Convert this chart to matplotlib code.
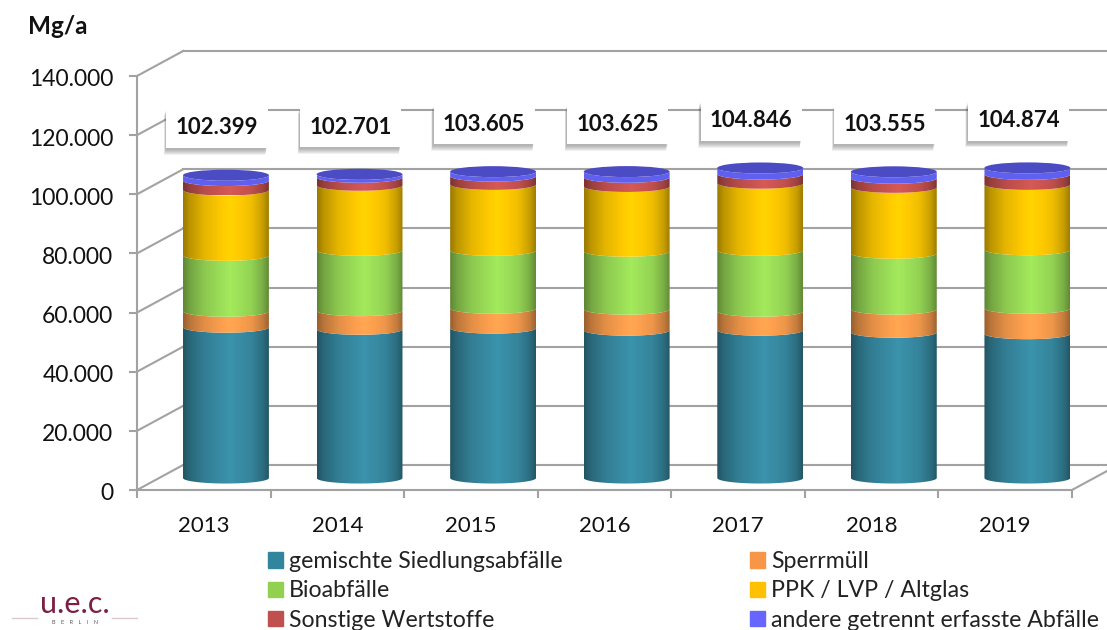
import numpy as np
import matplotlib
matplotlib.use('Agg')
import matplotlib.pyplot as plt
from matplotlib.patches import Patch, PathPatch, Ellipse
from matplotlib.path import Path
from matplotlib.transforms import ScaledTranslation
import matplotlib.patheffects as pe

plt.rcParams['font.family'] = ['Lato', 'DejaVu Sans']

years = ['2013', '2014', '2015', '2016', '2017', '2018', '2019']
totals = [102399, 102701, 103605, 103625, 104846, 103555, 104874]
gemischt = [51000, 50300, 50700, 50000, 50000, 49300, 48800]
sperrmuell = [5400, 6300, 6700, 7100, 6400, 7800, 8600]
bio = [18900, 20400, 19600, 19600, 20600, 18900, 19800]
ppk = [22100, 22000, 22300, 21900, 22700, 22300, 22100]
sonstige = [3200, 2700, 2800, 3100, 3100, 3100, 3400]
andere = [1799, 1001, 1505, 1925, 2046, 2155, 2174]
y_ticks = [0, 20000, 40000, 60000, 80000, 100000, 120000, 140000]
y_labels = ['0', '20.000', '40.000', '60.000', '80.000', '100.000', '120.000', '140.000']

series = [gemischt, sperrmuell, bio, ppk, sonstige, andere]
names = ['gemischte Siedlungsabfälle', 'Sperrmüll', 'Bioabfälle', 'PPK / LVP / Altglas',
         'Sonstige Wertstoffe', 'andere getrennt erfasste Abfälle']
colors = ['#388ca4', '#fc9f4e', '#9cdf58', '#ffca00', '#cc5552', '#6060f0']
legend_colors = ['#31859c', '#f79646', '#92d050', '#ffc000', '#c0504d', '#6666ff']

W, H = 1107, 630
fig = plt.figure(figsize=(W / 100, H / 100), dpi=100)
# front plane of the 3d box, everything else is offset from it
ax = fig.add_axes([137 / W, 1 - 490 / H, 935 / W, 414 / H])
ax.set_xlim(0, 7)
ax.set_ylim(0, 140000)
ax.patch.set_visible(False)

dx, dy = 0.345, 8450
grey = '#a2a2a2'
for v in y_ticks:
    ax.plot([0, dx], [v, v + dy], color=grey, lw=1.5, clip_on=False, zorder=1)
    ax.plot([dx, 7.5], [v + dy, v + dy], color=grey, lw=1.5, clip_on=False, zorder=1)
ax.plot([7, 7 + dx], [0, dy], color=grey, lw=1.5, clip_on=False, zorder=1)

for s in ['top', 'right']:
    ax.spines[s].set_visible(False)
for s in ['left', 'bottom']:
    ax.spines[s].set_color(grey)
    ax.spines[s].set_linewidth(1.5)

ax.set_yticks(y_ticks)
ax.set_yticklabels(y_labels)
ax.tick_params(axis='y', length=6, width=1.5, color=grey, labelsize=16.5, labelcolor='#111111', pad=11)
down = ScaledTranslation(0, -2 / 100, fig.dpi_scale_trans)
for lab in ax.get_yticklabels():
    lab.set_transform(lab.get_transform() + down)
ax.set_xticks(range(8))
ax.set_xticklabels([])
ax.tick_params(axis='x', which='major', length=6, width=1.5, color=grey)
ax.set_xticks(np.arange(7) + 0.5, minor=True)
ax.set_xticklabels(years, minor=True)
ax.tick_params(axis='x', which='minor', length=0, labelsize=16, labelcolor='#111111', pad=19)

# cylinders
bar_off, bar_w = 0.666, 0.643
base, arc = 4050, 1860
t = np.linspace(0, np.pi, 60)
shade_x = [0, 0.08, 0.25, 0.55, 0.8, 0.93, 1]
shade_y = [0.6, 0.74, 0.9, 1.05, 0.94, 0.78, 0.62]
grad = np.interp(np.linspace(0, 1, 200), shade_x, shade_y)

for i in range(7):
    cx = i + bar_off
    left, right = cx - bar_w / 2, cx + bar_w / 2
    bottom = base
    for k, vals in enumerate(series):
        top = bottom + vals[i]
        xs = cx - bar_w / 2 * np.cos(t)
        lo = bottom - arc * np.sin(t)
        hi = top - arc * np.sin(t)
        verts = np.vstack([np.column_stack([xs, lo]), np.column_stack([xs[::-1], hi[::-1]])])
        clip = PathPatch(Path(verts, closed=False), transform=ax.transData, fc='none', ec='none')
        ax.add_patch(clip)
        rgb = np.array(matplotlib.colors.to_rgb(colors[k]))
        img = np.clip(grad[None, :, None] * rgb, 0, 1)
        if k == 5:
            img = rgb * np.ones((1, 200, 3))
        im = ax.imshow(img, extent=[left, right, bottom - arc, top], aspect='auto', zorder=3, clip_on=True)
        im.set_clip_path(clip)
        bottom = top
    ax.add_patch(Ellipse((cx, bottom), bar_w, 2 * arc, fc='#4b4bc4', ec='none', zorder=4))

ax.set_xlim(0, 7)
ax.set_ylim(0, 140000)

# value boxes
shadow = [pe.SimplePatchShadow(offset=o, shadow_rgbFace='#404040', alpha=0.08)
          for o in [(-1.6, -5), (-1.4, -4.3), (-1.2, -3.6), (-1, -2.9), (-0.8, -2.2), (-0.5, -1.5)]]
for i in range(7):
    a = ax.annotate(f'{totals[i] // 1000}.{totals[i] % 1000:03d}', (i + bar_off, totals[i] + base),
                    xytext=(-6.5, 34), textcoords='offset points', ha='center', va='center',
                    fontsize=16, fontweight='bold', color='#111111', zorder=6,
                    bbox=dict(boxstyle='square,pad=0.42', fc='white', ec='none'), annotation_clip=False)
    a.get_bbox_patch().set_path_effects(shadow + [pe.Normal()])

fig.text(28 / W, 1 - 26 / H, 'Mg/a', fontsize=17.5, fontweight='bold', color='#111111', va='center')

handles = [Patch(color=legend_colors[k], label=names[k]) for k in [0, 2, 4, 1, 3, 5]]
fig.legend(handles=handles, loc='upper left', bbox_to_anchor=(268 / W, 1 - 551 / H), ncol=2, frameon=False,
           fontsize=16.7, labelcolor='#222222', handlelength=0.64, handleheight=0.64, handletextpad=0.25,
           columnspacing=8.1, labelspacing=0.36, borderpad=0, borderaxespad=0)

# logo
fig.text(75 / W, 1 - 613 / H, 'u.e.c.', fontsize=22, color='#7b1f45', ha='center', va='baseline')
fig.text(75 / W, 1 - 622.5 / H, 'B    E    R    L    I    N', fontsize=4, color='#555555', ha='center', va='center')
for xa, xb in [(12, 37), (112, 137)]:
    fig.add_artist(plt.Line2D([xa / W, xb / W], [1 - 618 / H] * 2, color='#dcc8d0', lw=1))

fig.savefig('out.png', dpi=100)
